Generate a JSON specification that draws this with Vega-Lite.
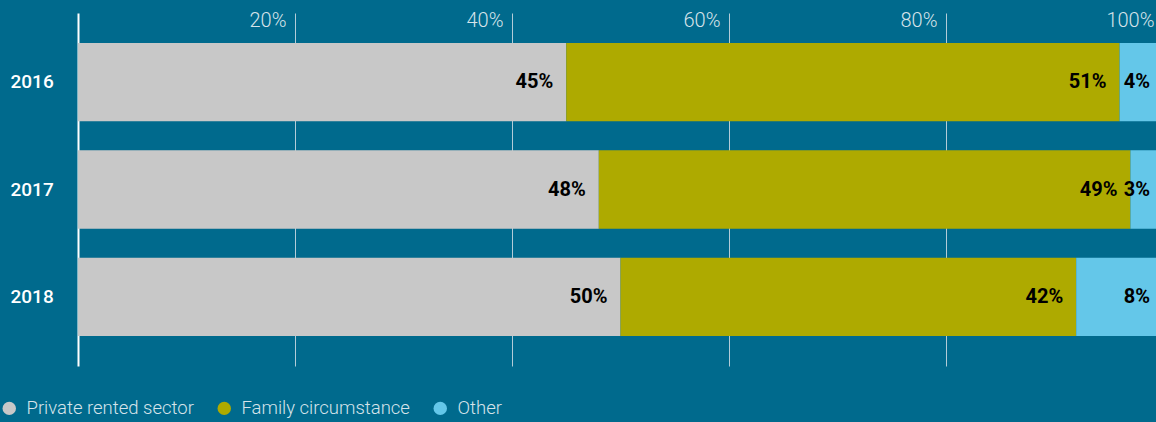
{
  "$schema": "https://vega.github.io/schema/vega-lite/v6.json",
  "autosize": {"type": "none"},
  "width": 1078,
  "height": 353,
  "padding": {"left": 78, "top": 13, "right": 0, "bottom": 56},
  "background": "#006a8d",
  "config": {
    "view": {"stroke": null},
    "font": "Roboto"
  },
  "data": {
    "values": [
      {"year": "2016", "category": "Private rented sector", "k": 1, "value": 0.45},
      {"year": "2016", "category": "Family circumstance", "k": 2, "value": 0.51},
      {"year": "2016", "category": "Other", "k": 3, "value": 0.04},
      {"year": "2017", "category": "Private rented sector", "k": 1, "value": 0.48},
      {"year": "2017", "category": "Family circumstance", "k": 2, "value": 0.49},
      {"year": "2017", "category": "Other", "k": 3, "value": 0.03},
      {"year": "2018", "category": "Private rented sector", "k": 1, "value": 0.50},
      {"year": "2018", "category": "Family circumstance", "k": 2, "value": 0.42},
      {"year": "2018", "category": "Other", "k": 3, "value": 0.08}
    ]
  },
  "encoding": {
    "y": {
      "field": "year", "type": "nominal", "sort": "ascending",
      "scale": {"paddingInner": 0.27, "paddingOuter": 0.28},
      "axis": {
        "title": null, "ticks": false, "domain": true, "domainColor": "#ffffff", "domainWidth": 2,
        "labelColor": "#ffffff", "labelFontSize": 19, "labelFontWeight": 500,
        "labelAlign": "left", "labelPadding": 68
      }
    },
    "x": {
      "field": "value", "type": "quantitative", "stack": "zero",
      "scale": {"domain": [0, 1], "range": [0, 1085], "nice": false},
      "axis": {
        "orient": "top", "title": null, "values": [0.2, 0.4, 0.6, 0.8, 1],
        "format": ".0%", "ticks": false, "tickSize": 0, "domain": false,
        "grid": true, "gridColor": "#b3ccd8", "gridWidth": 1,
        "labelColor": "#d6e3ea", "labelFontSize": 20, "labelFontWeight": 300,
        "labelAlign": "right", "labelBaseline": "alphabetic", "labelPadding": -13, "labelOffset": -9,
        "labelOverlap": false, "labelBound": false, "labelFlush": false
      }
    },
    "order": {"field": "k", "type": "quantitative"}
  },
  "layer": [
    {
      "mark": {"type": "bar"},
      "encoding": {
        "color": {
          "field": "category", "type": "nominal",
          "scale": {
            "domain": ["Private rented sector", "Family circumstance", "Other"],
            "range": ["#c8c8c8", "#aeaa00", "#64c7e9"]
          },
          "legend": {
            "title": null, "orient": "none", "legendX": -78, "legendY": 386,
            "direction": "horizontal", "symbolType": "circle", "symbolSize": 180,
            "symbolStrokeWidth": 0, "symbolOpacity": 1,
            "labelColor": "#d6e3ea", "labelFontSize": 18.5, "labelFontWeight": 300,
            "labelLimit": 400, "labelOffset": 8, "columnPadding": 21, "padding": 0
          }
        }
      }
    },
    {
      "mark": {"type": "text", "align": "right", "baseline": "middle", "dx": -13, "fontSize": 20, "fontWeight": "bold", "color": "#000000"},
      "encoding": {
        "text": {"field": "value", "type": "quantitative", "format": ".0%"},
        "detail": {"field": "category"}
      }
    }
  ]
}
